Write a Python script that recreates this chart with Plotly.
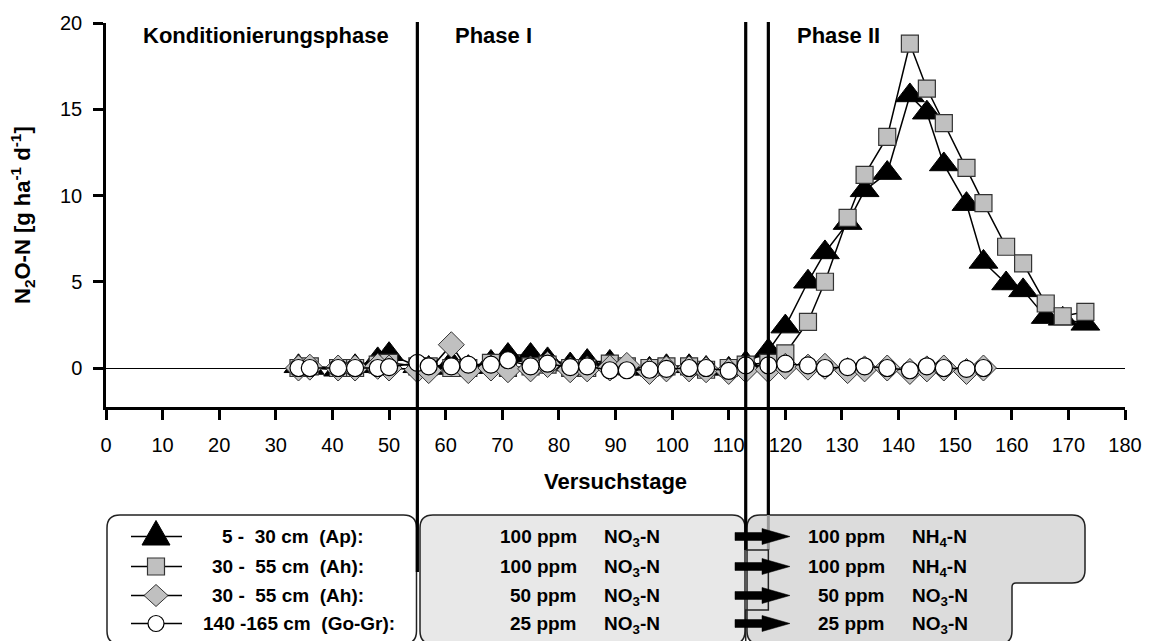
import plotly.graph_objects as go

# -------- Daten --------
DAYS = [34, 36, 41, 44, 48, 50, 55, 57, 61, 64, 68, 71, 75, 78, 82, 85, 89, 92, 96, 99,
        103, 106, 110, 113, 117, 120, 124, 127, 131, 134, 138, 142, 145, 148, 152, 155,
        159, 162, 166, 169, 173]
DAYS_SHORT = DAYS[:36]

AP_5_30 = [0.1, 0.0, -0.1, 0.1, 0.5, 0.8, 0.1, 0.0, 0.3, 0.05,
           0.35, 0.75, 0.75, 0.5, 0.2, 0.4, 0.35, 0.0, -0.05, 0.1,
           0.1, 0.0, -0.05, 0.3, 1.0, 2.4, 5.0, 6.7, 8.4, 10.3,
           11.3, 15.8, 14.8, 11.8, 9.5, 6.15, 4.9, 4.5, 2.95, 2.85, 2.56]
AH_30_55_NH4 = [0.0, 0.1, 0.0, 0.0, 0.2, 0.3, 0.1, 0.1, 0.0, 0.0,
                0.3, 0.0, 0.1, 0.2, 0.0, 0.0, 0.25, 0.1, 0.0, 0.1,
                0.1, -0.1, 0.0, 0.2, 0.3, 0.85, 2.67, 5.0, 8.7, 11.2,
                13.4, 18.8, 16.2, 14.2, 11.6, 9.56, 7.03, 6.07, 3.74, 3.0, 3.26]
AH_30_55_NO3 = [0.0, 0.05, 0.0, 0.0, 0.1, 0.0, -0.1, -0.15, 1.35, -0.15,
                0.0, -0.1, -0.05, 0.2, -0.1, -0.05, 0.0, 0.15, -0.2, -0.05,
                -0.05, -0.1, -0.2, -0.1, -0.1, 0.1, 0.05, 0.1, -0.15, -0.05,
                0.0, -0.2, -0.05, 0.0, -0.2, 0.0]
GOGR_140_165 = [0.0, 0.0, 0.0, 0.0, 0.0, 0.05, 0.3, 0.1, 0.1, 0.2,
                0.2, 0.45, 0.1, 0.25, 0.05, 0.1, -0.13, -0.13, -0.1, -0.05,
                0.0, 0.0, -0.17, 0.15, 0.15, 0.25, 0.15, 0.0, 0.05, 0.1,
                0.0, -0.13, 0.1, 0.0, -0.05, 0.0]

PHASE_BOUNDS = [55, 113, 117]
PHASE_LABELS = ["Konditionierungsphase", "Phase I", "Phase II"]
X_TICKS = list(range(0, 181, 10))
Y_TICKS = [0, 5, 10, 15, 20]

LEGEND_TEXT = ["5 -\u00a0 30 cm\u00a0 (Ap):", "30 -\u00a0 55 cm\u00a0 (Ah):",
               "30 -\u00a0 55 cm\u00a0 (Ah):", "140 -165 cm\u00a0 (Go-Gr):"]
PPM_I = ["100 ppm", "100 ppm", "50 ppm", "25 ppm"]
N_I = ["NO<sub>3</sub>-N"] * 4
PPM_II = ["100 ppm", "100 ppm", "50 ppm", "25 ppm"]
N_II = ["NH<sub>4</sub>-N", "NH<sub>4</sub>-N", "NO<sub>3</sub>-N", "NO<sub>3</sub>-N"]

FONT = "Liberation Sans, Arial, sans-serif"

# -------- Pixel (Seite) -> paper --------
OFF = 8  # body margin der HTML-Seite
PAGE_W, PAGE_H = 1150, 641
L, R, T, B = 106, 1125, 23, 407
W, H = R - L, B - T


def px(x):
    return (x - L) / W


def py(y):
    return (B - y) / H


def poly(pts):
    return "M" + " L".join("%.5f,%.5f" % (px(a), py(b)) for a, b in pts) + " Z"


def rounded_path(pts_r):
    # Polygon mit abgerundeten Ecken (x, y, r) in Pixeln
    n = len(pts_r)

    def toward(ax, ay, bx, by, d):
        dx, dy = bx - ax, by - ay
        ln = (dx * dx + dy * dy) ** 0.5
        return ax + dx / ln * d, ay + dy / ln * d

    segs = []
    for i in range(n):
        x, y, r = pts_r[i]
        xp, yp, _ = pts_r[i - 1]
        xn, yn, _ = pts_r[(i + 1) % n]
        segs.append((toward(x, y, xp, yp, r), (x, y), toward(x, y, xn, yn, r)))
    d = "M%.5f,%.5f" % (px(segs[0][0][0]), py(segs[0][0][1]))
    for i, (a, c, b) in enumerate(segs):
        if i > 0:
            d += " L%.5f,%.5f" % (px(a[0]), py(a[1]))
        d += " Q%.5f,%.5f %.5f,%.5f" % (px(c[0]), py(c[1]), px(b[0]), py(b[1]))
    return d + " Z"


fig = go.Figure()

fig.add_trace(go.Scatter(
    x=DAYS, y=AP_5_30, mode="lines+markers", name="5-30 cm (Ap)",
    line=dict(color="black", width=1.5),
    marker=dict(symbol="triangle-up", size=25, color="black", line=dict(color="black", width=1)),
))
fig.add_trace(go.Scatter(
    x=DAYS, y=AH_30_55_NH4, mode="lines+markers", name="30-55 cm (Ah)",
    line=dict(color="black", width=1.5),
    marker=dict(symbol="square", size=17, color="#c0c0c0", line=dict(color="#333333", width=1.2)),
))
fig.add_trace(go.Scatter(
    x=DAYS_SHORT, y=AH_30_55_NO3, mode="lines+markers", name="30-55 cm (Ah) NO3",
    line=dict(color="black", width=1.5),
    marker=dict(symbol="diamond", size=20, color="#c0c0c0", line=dict(color="#333333", width=1)),
))
fig.add_trace(go.Scatter(
    x=DAYS_SHORT, y=GOGR_140_165, mode="lines+markers", name="140-165 cm (Go-Gr)",
    line=dict(color="black", width=1.5),
    marker=dict(symbol="circle", size=17, color="white", line=dict(color="black", width=1.2)),
))

shapes = []

# Kästen unten
BOX_TOP, BOX_BOT, RAD = 515, 644, 13
shapes.append(dict(type="path", xref="paper", yref="paper", layer="below",
                   path=rounded_path([(107, BOX_TOP, RAD), (416.5, BOX_TOP, RAD),
                                      (416.5, BOX_BOT, RAD), (107, BOX_BOT, RAD)]),
                   fillcolor="white", line=dict(color="#222222", width=1.5)))
shapes.append(dict(type="path", xref="paper", yref="paper", layer="below",
                   path=rounded_path([(420, BOX_TOP, RAD), (745, BOX_TOP, RAD),
                                      (745, BOX_BOT, RAD), (420, BOX_BOT, RAD)]),
                   fillcolor="#e8e8e8", line=dict(color="#222222", width=1.5)))
shapes.append(dict(type="path", xref="paper", yref="paper", layer="below",
                   path=rounded_path([(747, BOX_TOP, RAD), (1085, BOX_TOP, RAD),
                                      (1085, 583, RAD), (1012, 583, 4),
                                      (1012, BOX_BOT, RAD), (747, BOX_BOT, RAD)]),
                   fillcolor="#dcdcdc", line=dict(color="#222222", width=1.5)))

# Phasengrenzen
top = py(T - 1)
b55, b113, b117 = PHASE_BOUNDS
xb113 = L + b113 * W / 180
xb117 = L + b117 * W / 180
shapes.append(dict(type="line", xref="x", yref="paper", x0=b55, x1=b55, y0=top, y1=py(572),
                   line=dict(color="black", width=3.2)))
shapes.append(dict(type="line", xref="x", yref="paper", x0=b113, x1=b113, y0=top, y1=py(550),
                   line=dict(color="black", width=3.2)))
shapes.append(dict(type="line", xref="x", yref="paper", x0=b117, x1=b117, y0=top, y1=py(BOX_TOP),
                   line=dict(color="black", width=3.2)))
shapes.append(dict(type="line", xref="x", yref="paper", x0=b117, x1=b117, y0=py(BOX_TOP), y1=py(550),
                   line=dict(color="#999999", width=3)))
shapes.append(dict(type="path", xref="paper", yref="paper",
                   path="M%.5f,%.5f L%.5f,%.5f L%.5f,%.5f L%.5f,%.5f L%.5f,%.5f" % (
                       px(xb113), py(550), px(xb117), py(550), px(xb117), py(610),
                       px(xb113), py(610), px(xb113), py(BOX_BOT)),
                   line=dict(color="#222222", width=1.5)))

# Pfeile
ROWS = [536.5, 566.5, 595.5, 623.5]
for ry in ROWS:
    x0, xh, xt, hs, hh = 735, 762, 790, 4, 8
    shapes.append(dict(type="path", xref="paper", yref="paper",
                       path=poly([(x0, ry - hs), (xh, ry - hs), (xh, ry - hh), (xt, ry),
                                  (xh, ry + hh), (xh, ry + hs), (x0, ry + hs)]),
                       fillcolor="black", line=dict(color="black", width=0.5)))

# Legendensymbole
LX, LX0, LX1 = 156, 131, 182
for ry in ROWS:
    shapes.append(dict(type="line", xref="paper", yref="paper", x0=px(LX0), x1=px(LX1),
                       y0=py(ry), y1=py(ry), line=dict(color="black", width=1.5)))
ry = ROWS[0]
shapes.append(dict(type="path", xref="paper", yref="paper",
                   path=poly([(LX - 14, ry + 8.5), (LX + 14, ry + 8.5), (LX, ry - 16)]),
                   fillcolor="black", line=dict(color="black", width=1)))
ry = ROWS[1]
shapes.append(dict(type="rect", xref="paper", yref="paper", x0=px(LX - 8.5), x1=px(LX + 8.5),
                   y0=py(ry + 8.5), y1=py(ry - 8.5), fillcolor="#c0c0c0",
                   line=dict(color="#333333", width=1.2)))
ry = ROWS[2]
shapes.append(dict(type="path", xref="paper", yref="paper",
                   path=poly([(LX - 12, ry), (LX, ry - 11), (LX + 12, ry), (LX, ry + 11)]),
                   fillcolor="#c0c0c0", line=dict(color="#333333", width=1)))
ry = ROWS[3]
shapes.append(dict(type="circle", xref="paper", yref="paper", x0=px(LX - 8), x1=px(LX + 8),
                   y0=py(ry + 8), y1=py(ry - 8), fillcolor="white",
                   line=dict(color="black", width=1.2)))

annotations = []


def label(text, x, y, anchor="left", size=19, angle=0):
    annotations.append(dict(text="<b>%s</b>" % text, x=px(x), y=py(y),
                            xref="paper", yref="paper", xanchor=anchor, yanchor="middle",
                            showarrow=False, textangle=angle,
                            font=dict(family=FONT, size=size, color="black")))


label(PHASE_LABELS[0], 141, 36, size=22)
label(PHASE_LABELS[1], 453, 36, size=22)
label(PHASE_LABELS[2], 795, 36, size=22)
label("Versuchstage", (L + R) / 2, 481, anchor="center", size=22)
label("N<sub>2</sub>O-N [g ha<sup>-1</sup> d<sup>-1</sup>]", 22, (T + B) / 2, anchor="center",
      size=22, angle=-90)

LEG_X = [220, 210, 210, 201]
for i, ry in enumerate(ROWS):
    label(LEGEND_TEXT[i], LEG_X[i], ry)
    label(PPM_I[i], 579, ry, anchor="right")
    label(N_I[i], 602, ry + 1)
    label(PPM_II[i], 887, ry, anchor="right")
    label(N_II[i], 910, ry + 1)

fig.update_layout(
    width=PAGE_W - OFF, height=PAGE_H - OFF,
    margin=dict(l=L - OFF, r=PAGE_W - R, t=T - OFF, b=PAGE_H - B, pad=0),
    plot_bgcolor="white", paper_bgcolor="white",
    showlegend=False,
    shapes=shapes, annotations=annotations,
    font=dict(family=FONT, size=20, color="black"),
)
fig.update_xaxes(
    range=[0, 180], tickvals=X_TICKS, ticks="outside", ticklen=10, tickwidth=2.5,
    tickcolor="black", showline=True, linewidth=2.5, linecolor="black",
    showgrid=False, zeroline=False, ticklabelstandoff=8, automargin=False,
    tickfont=dict(family=FONT, size=20),
)
fig.update_yaxes(
    range=[-2.26, 20], tickvals=Y_TICKS, ticks="outside", ticklen=10, tickwidth=2.5,
    tickcolor="black", showline=True, linewidth=2.5, linecolor="black",
    showgrid=False, zeroline=True, zerolinecolor="black", zerolinewidth=1,
    ticklabelstandoff=7, automargin=False, tickfont=dict(family=FONT, size=20),
)

fig.write_html("out.html")
